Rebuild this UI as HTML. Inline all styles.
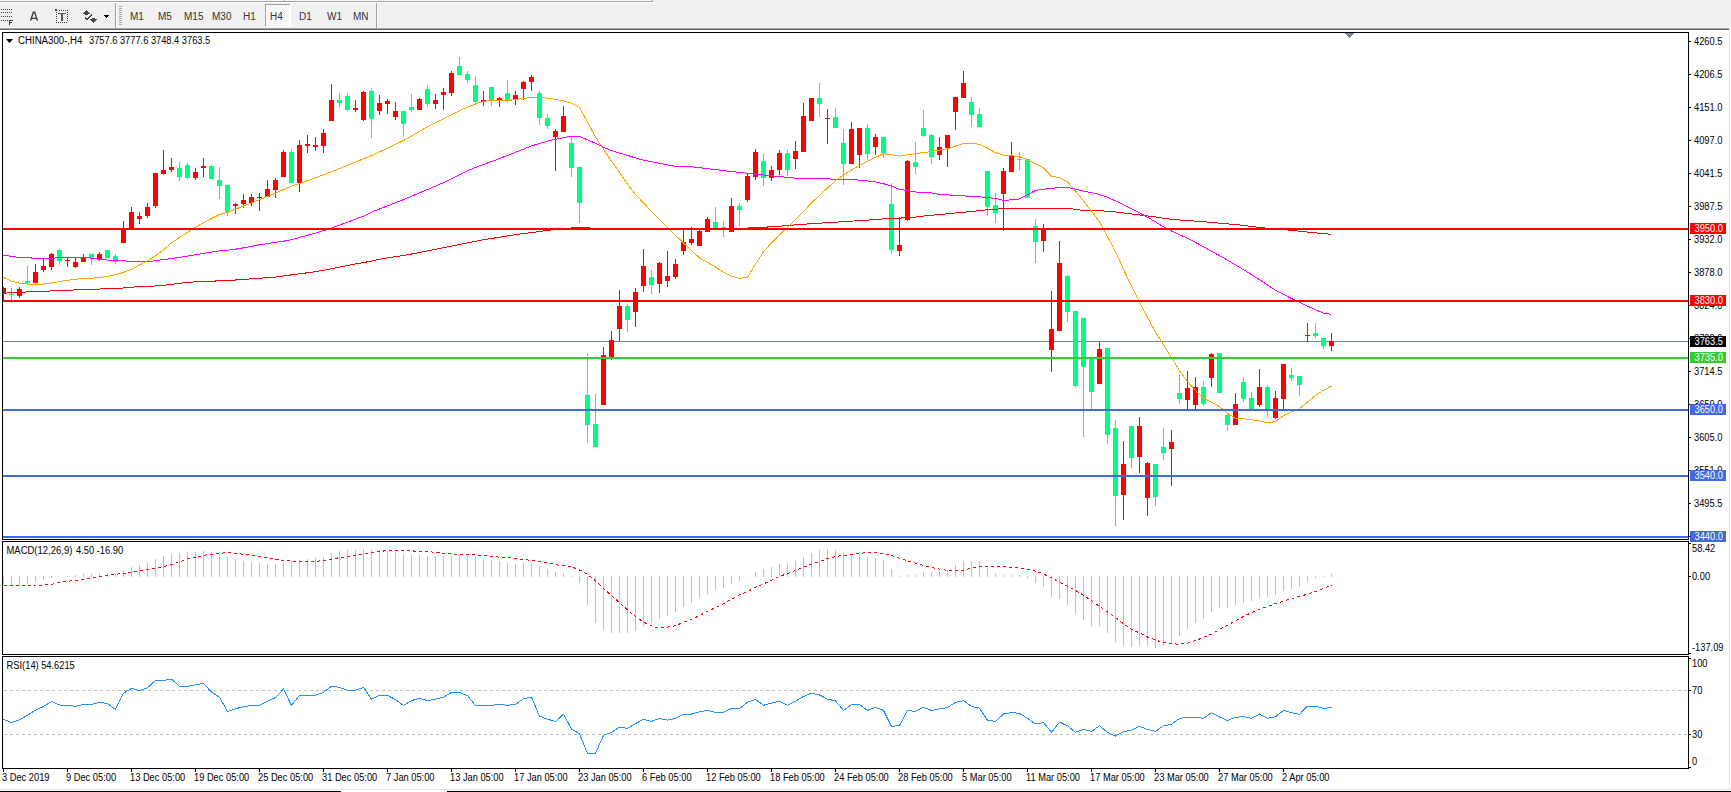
<!DOCTYPE html><html><head><meta charset="utf-8"><title>CHINA300 H4</title><style>
html,body{margin:0;padding:0;width:1731px;height:792px;overflow:hidden;background:#fff}
svg{position:absolute;left:0;top:0;display:block}
text{font-family:"Liberation Sans",sans-serif;font-size:9.5px;white-space:pre}
</style></head><body>
<svg width="1731" height="792" viewBox="0 0 1731 792" shape-rendering="crispEdges">
<defs><clipPath id="cm"><rect x="3" y="33" width="1685" height="506"/></clipPath><clipPath id="cd"><rect x="3" y="542" width="1685" height="112"/></clipPath><clipPath id="cr"><rect x="3" y="657" width="1685" height="111"/></clipPath><pattern id="dith" width="2" height="2" patternUnits="userSpaceOnUse"><rect width="2" height="2" fill="#f0f0f0"/><rect width="1" height="1" fill="#fff"/><rect x="1" y="1" width="1" height="1" fill="#fff"/></pattern></defs>
<rect x="0" y="0" width="1731" height="30" fill="#f0f0f0"/>
<rect x="0" y="0" width="653" height="1" fill="#f7f7f7"/>
<rect x="0" y="1" width="653" height="1" fill="#a0a0a0"/>
<rect x="652" y="0" width="1" height="2" fill="#a0a0a0"/>
<rect x="284" y="0" width="1" height="2" fill="#a0a0a0"/>
<rect x="0" y="2" width="654" height="1" fill="#ffffff"/>
<rect x="0" y="27" width="1731" height="1" fill="#f7f7f7"/>
<rect x="0" y="28" width="1729" height="1" fill="#a0a0a0"/>
<rect x="0" y="29" width="1729" height="1" fill="#696969"/>
<rect x="115" y="3" width="1" height="25" fill="#a0a0a0"/>
<rect x="116" y="3" width="1" height="25" fill="#ffffff"/>
<rect x="376" y="3" width="1" height="25" fill="#a0a0a0"/>
<rect x="377" y="3" width="1" height="25" fill="#ffffff"/>
<rect x="119" y="6" width="3" height="1" fill="#a8a8a8"/>
<rect x="119" y="8" width="3" height="1" fill="#a8a8a8"/>
<rect x="119" y="10" width="3" height="1" fill="#a8a8a8"/>
<rect x="119" y="12" width="3" height="1" fill="#a8a8a8"/>
<rect x="119" y="14" width="3" height="1" fill="#a8a8a8"/>
<rect x="119" y="16" width="3" height="1" fill="#a8a8a8"/>
<rect x="119" y="18" width="3" height="1" fill="#a8a8a8"/>
<rect x="119" y="20" width="3" height="1" fill="#a8a8a8"/>
<rect x="119" y="22" width="3" height="1" fill="#a8a8a8"/>
<rect x="119" y="24" width="3" height="1" fill="#a8a8a8"/>
<rect x="1" y="9" width="1" height="1" fill="#3c3c3c"/>
<rect x="3" y="9" width="1" height="1" fill="#3c3c3c"/>
<rect x="5" y="9" width="1" height="1" fill="#3c3c3c"/>
<rect x="7" y="9" width="1" height="1" fill="#3c3c3c"/>
<rect x="9" y="9" width="1" height="1" fill="#3c3c3c"/>
<rect x="11" y="9" width="1" height="1" fill="#3c3c3c"/>
<rect x="1" y="12" width="1" height="1" fill="#3c3c3c"/>
<rect x="3" y="12" width="1" height="1" fill="#3c3c3c"/>
<rect x="5" y="12" width="1" height="1" fill="#3c3c3c"/>
<rect x="7" y="12" width="1" height="1" fill="#3c3c3c"/>
<rect x="9" y="12" width="1" height="1" fill="#3c3c3c"/>
<rect x="11" y="12" width="1" height="1" fill="#3c3c3c"/>
<rect x="1" y="16" width="1" height="1" fill="#3c3c3c"/>
<rect x="3" y="16" width="1" height="1" fill="#3c3c3c"/>
<rect x="5" y="16" width="1" height="1" fill="#3c3c3c"/>
<rect x="7" y="16" width="1" height="1" fill="#3c3c3c"/>
<rect x="9" y="16" width="1" height="1" fill="#3c3c3c"/>
<rect x="11" y="16" width="1" height="1" fill="#3c3c3c"/>
<rect x="1" y="20" width="1" height="1" fill="#3c3c3c"/>
<rect x="3" y="20" width="1" height="1" fill="#3c3c3c"/>
<rect x="5" y="20" width="1" height="1" fill="#3c3c3c"/>
<rect x="7" y="20" width="1" height="1" fill="#3c3c3c"/>
<path d="M9 20h4v1h-3v1h2v1h-2v2h-1z" fill="#3c3c3c"/>
<path d="M30.6 20.6L33.3 12.2H34.7L37.4 20.6M31.6 18.4H36.4" stroke="#3a3a3a" stroke-width="1.35" fill="none" shape-rendering="auto"/>
<rect x="59" y="10" width="1" height="1" fill="#3c3c3c"/>
<rect x="61" y="10" width="1" height="1" fill="#3c3c3c"/>
<rect x="63" y="10" width="1" height="1" fill="#3c3c3c"/>
<rect x="65" y="10" width="1" height="1" fill="#3c3c3c"/>
<rect x="67" y="10" width="1" height="1" fill="#3c3c3c"/>
<rect x="56" y="22" width="1" height="1" fill="#3c3c3c"/>
<rect x="58" y="22" width="1" height="1" fill="#3c3c3c"/>
<rect x="60" y="22" width="1" height="1" fill="#3c3c3c"/>
<rect x="62" y="22" width="1" height="1" fill="#3c3c3c"/>
<rect x="64" y="22" width="1" height="1" fill="#3c3c3c"/>
<rect x="66" y="22" width="1" height="1" fill="#3c3c3c"/>
<rect x="56" y="12" width="1" height="1" fill="#3c3c3c"/>
<rect x="67" y="12" width="1" height="1" fill="#3c3c3c"/>
<rect x="56" y="14" width="1" height="1" fill="#3c3c3c"/>
<rect x="67" y="14" width="1" height="1" fill="#3c3c3c"/>
<rect x="56" y="16" width="1" height="1" fill="#3c3c3c"/>
<rect x="67" y="16" width="1" height="1" fill="#3c3c3c"/>
<rect x="56" y="18" width="1" height="1" fill="#3c3c3c"/>
<rect x="67" y="18" width="1" height="1" fill="#3c3c3c"/>
<rect x="56" y="20" width="1" height="1" fill="#3c3c3c"/>
<rect x="67" y="20" width="1" height="1" fill="#3c3c3c"/>
<rect x="55" y="9" width="2" height="2" fill="#3c3c3c"/>
<rect x="58" y="13" width="8" height="1" fill="#555555"/>
<rect x="61" y="13" width="2" height="8" fill="#555555"/>
<rect x="86" y="10" width="1" height="1" fill="#454545"/>
<rect x="85" y="11" width="3" height="1" fill="#454545"/>
<rect x="84" y="12" width="5" height="1" fill="#454545"/>
<rect x="83" y="13" width="7" height="1" fill="#454545"/>
<rect x="85" y="14" width="3" height="1" fill="#454545"/>
<rect x="92" y="18" width="3" height="1" fill="#454545"/>
<rect x="90" y="19" width="7" height="1" fill="#454545"/>
<rect x="91" y="20" width="5" height="1" fill="#454545"/>
<rect x="92" y="21" width="3" height="1" fill="#454545"/>
<rect x="93" y="22" width="1" height="1" fill="#454545"/>
<rect x="91" y="14" width="1" height="1" fill="#454545"/>
<rect x="90" y="15" width="1" height="1" fill="#454545"/>
<rect x="91" y="15" width="1" height="1" fill="#454545"/>
<rect x="89" y="16" width="1" height="1" fill="#454545"/>
<rect x="90" y="16" width="1" height="1" fill="#454545"/>
<rect x="85" y="17" width="1" height="1" fill="#454545"/>
<rect x="88" y="17" width="1" height="1" fill="#454545"/>
<rect x="89" y="17" width="1" height="1" fill="#454545"/>
<rect x="85" y="18" width="1" height="1" fill="#454545"/>
<rect x="86" y="18" width="1" height="1" fill="#454545"/>
<rect x="87" y="18" width="1" height="1" fill="#454545"/>
<rect x="88" y="18" width="1" height="1" fill="#454545"/>
<rect x="86" y="19" width="1" height="1" fill="#454545"/>
<rect x="87" y="19" width="1" height="1" fill="#454545"/>
<rect x="104" y="15" width="5" height="1" fill="#000"/>
<rect x="105" y="16" width="3" height="1" fill="#000"/>
<rect x="106" y="17" width="1" height="1" fill="#000"/>
<rect x="266" y="5" width="24" height="21" fill="url(#dith)"/>
<rect x="265" y="4" width="25" height="1" fill="#a0a0a0"/>
<rect x="265" y="4" width="1" height="22" fill="#a0a0a0"/>
<rect x="290" y="4" width="1" height="23" fill="#ffffff"/>
<rect x="265" y="26" width="26" height="1" fill="#ffffff"/>
<text x="130" y="20" fill="#333" style="font-size:10px" shape-rendering="auto">M1</text>
<text x="158" y="20" fill="#333" style="font-size:10px" shape-rendering="auto">M5</text>
<text x="184" y="20" fill="#333" style="font-size:10px" shape-rendering="auto">M15</text>
<text x="212" y="20" fill="#333" style="font-size:10px" shape-rendering="auto">M30</text>
<text x="243" y="20" fill="#333" style="font-size:10px" shape-rendering="auto">H1</text>
<text x="270" y="20" fill="#333" style="font-size:10px" shape-rendering="auto">H4</text>
<text x="299" y="20" fill="#333" style="font-size:10px" shape-rendering="auto">D1</text>
<text x="327" y="20" fill="#333" style="font-size:10px" shape-rendering="auto">W1</text>
<text x="353" y="20" fill="#333" style="font-size:10px" shape-rendering="auto">MN</text>
<rect x="0" y="30" width="1731" height="762" fill="#ffffff"/>
<rect x="1729" y="30" width="1" height="760" fill="#e3e3e3"/>
<rect x="0" y="789" width="1730" height="1" fill="#e3e3e3"/>
<rect x="0" y="791" width="341" height="1" fill="#000"/>
<rect x="447" y="791" width="1284" height="1" fill="#000"/>
<g clip-path="url(#cm)">
<rect x="3" y="341" width="1685" height="1" fill="#778899"/>
<rect x="3" y="287" width="1" height="13" fill="#ff0000"/>
<rect x="1" y="288" width="5" height="6" fill="#ff0000"/>
<rect x="11" y="288" width="1" height="15" fill="#00ff00"/>
<rect x="9" y="294" width="5" height="1" fill="#00ff00"/>
<rect x="19" y="287" width="1" height="11" fill="#ff0000"/>
<rect x="17" y="289" width="5" height="7" fill="#ff0000"/>
<rect x="27" y="266" width="1" height="18" fill="#00ff7f"/>
<rect x="25" y="281" width="5" height="2" fill="#00ff7f"/>
<rect x="35" y="264" width="1" height="19" fill="#ff0000"/>
<rect x="33" y="272" width="5" height="11" fill="#ff0000"/>
<rect x="43" y="258" width="1" height="14" fill="#ff0000"/>
<rect x="41" y="266" width="5" height="4" fill="#ff0000"/>
<rect x="51" y="253" width="1" height="17" fill="#ff0000"/>
<rect x="49" y="254" width="5" height="13" fill="#ff0000"/>
<rect x="59" y="249" width="1" height="16" fill="#00ff7f"/>
<rect x="57" y="250" width="5" height="11" fill="#00ff7f"/>
<rect x="67" y="257" width="1" height="10" fill="#ff0000"/>
<rect x="65" y="260" width="5" height="1" fill="#ff0000"/>
<rect x="75" y="257" width="1" height="11" fill="#ff0000"/>
<rect x="73" y="262" width="5" height="5" fill="#ff0000"/>
<rect x="83" y="254" width="1" height="8" fill="#ff0000"/>
<rect x="81" y="257" width="5" height="5" fill="#ff0000"/>
<rect x="91" y="254" width="1" height="11" fill="#00ff7f"/>
<rect x="89" y="254" width="5" height="4" fill="#00ff7f"/>
<rect x="99" y="252" width="1" height="9" fill="#ff0000"/>
<rect x="97" y="254" width="5" height="5" fill="#ff0000"/>
<rect x="107" y="250" width="1" height="8" fill="#00ff7f"/>
<rect x="105" y="250" width="5" height="8" fill="#00ff7f"/>
<rect x="115" y="254" width="1" height="10" fill="#00ff7f"/>
<rect x="113" y="256" width="5" height="6" fill="#00ff7f"/>
<rect x="123" y="221" width="1" height="22" fill="#ff0000"/>
<rect x="121" y="229" width="5" height="14" fill="#ff0000"/>
<rect x="131" y="207" width="1" height="21" fill="#ff0000"/>
<rect x="129" y="212" width="5" height="16" fill="#ff0000"/>
<rect x="139" y="212" width="1" height="12" fill="#ff0000"/>
<rect x="137" y="216" width="5" height="3" fill="#ff0000"/>
<rect x="147" y="203" width="1" height="15" fill="#ff0000"/>
<rect x="145" y="207" width="5" height="9" fill="#ff0000"/>
<rect x="155" y="173" width="1" height="35" fill="#ff0000"/>
<rect x="153" y="173" width="5" height="33" fill="#ff0000"/>
<rect x="163" y="150" width="1" height="25" fill="#ff0000"/>
<rect x="161" y="170" width="5" height="4" fill="#ff0000"/>
<rect x="171" y="158" width="1" height="14" fill="#ff0000"/>
<rect x="169" y="167" width="5" height="3" fill="#ff0000"/>
<rect x="179" y="162" width="1" height="19" fill="#00ff7f"/>
<rect x="177" y="168" width="5" height="9" fill="#00ff7f"/>
<rect x="187" y="163" width="1" height="16" fill="#00ff7f"/>
<rect x="185" y="165" width="5" height="13" fill="#00ff7f"/>
<rect x="195" y="168" width="1" height="12" fill="#ff0000"/>
<rect x="193" y="172" width="5" height="6" fill="#ff0000"/>
<rect x="203" y="158" width="1" height="19" fill="#ff0000"/>
<rect x="201" y="166" width="5" height="2" fill="#ff0000"/>
<rect x="211" y="165" width="1" height="14" fill="#00ff7f"/>
<rect x="209" y="166" width="5" height="13" fill="#00ff7f"/>
<rect x="219" y="167" width="1" height="32" fill="#00ff7f"/>
<rect x="217" y="180" width="5" height="6" fill="#00ff7f"/>
<rect x="227" y="185" width="1" height="31" fill="#00ff7f"/>
<rect x="225" y="185" width="5" height="27" fill="#00ff7f"/>
<rect x="235" y="203" width="1" height="11" fill="#ff0000"/>
<rect x="233" y="204" width="5" height="2" fill="#ff0000"/>
<rect x="243" y="194" width="1" height="14" fill="#ff0000"/>
<rect x="241" y="200" width="5" height="4" fill="#ff0000"/>
<rect x="251" y="194" width="1" height="12" fill="#ff0000"/>
<rect x="249" y="197" width="5" height="6" fill="#ff0000"/>
<rect x="259" y="193" width="1" height="18" fill="#ff0000"/>
<rect x="257" y="197" width="5" height="1" fill="#ff0000"/>
<rect x="267" y="180" width="1" height="17" fill="#ff0000"/>
<rect x="265" y="189" width="5" height="8" fill="#ff0000"/>
<rect x="275" y="178" width="1" height="20" fill="#ff0000"/>
<rect x="273" y="180" width="5" height="10" fill="#ff0000"/>
<rect x="283" y="150" width="1" height="27" fill="#ff0000"/>
<rect x="281" y="152" width="5" height="25" fill="#ff0000"/>
<rect x="291" y="149" width="1" height="34" fill="#00ff7f"/>
<rect x="289" y="152" width="5" height="31" fill="#00ff7f"/>
<rect x="299" y="140" width="1" height="52" fill="#ff0000"/>
<rect x="297" y="145" width="5" height="38" fill="#ff0000"/>
<rect x="307" y="135" width="1" height="18" fill="#ff0000"/>
<rect x="305" y="144" width="5" height="2" fill="#ff0000"/>
<rect x="315" y="137" width="1" height="14" fill="#ff0000"/>
<rect x="313" y="145" width="5" height="2" fill="#ff0000"/>
<rect x="323" y="129" width="1" height="24" fill="#ff0000"/>
<rect x="321" y="133" width="5" height="13" fill="#ff0000"/>
<rect x="331" y="84" width="1" height="37" fill="#ff0000"/>
<rect x="329" y="100" width="5" height="21" fill="#ff0000"/>
<rect x="339" y="93" width="1" height="15" fill="#00ff7f"/>
<rect x="337" y="100" width="5" height="3" fill="#00ff7f"/>
<rect x="347" y="93" width="1" height="18" fill="#00ff7f"/>
<rect x="345" y="96" width="5" height="14" fill="#00ff7f"/>
<rect x="355" y="100" width="1" height="12" fill="#ff0000"/>
<rect x="353" y="108" width="5" height="2" fill="#ff0000"/>
<rect x="363" y="91" width="1" height="30" fill="#ff0000"/>
<rect x="361" y="92" width="5" height="28" fill="#ff0000"/>
<rect x="371" y="88" width="1" height="50" fill="#00ff7f"/>
<rect x="369" y="91" width="5" height="28" fill="#00ff7f"/>
<rect x="379" y="95" width="1" height="20" fill="#ff0000"/>
<rect x="377" y="103" width="5" height="8" fill="#ff0000"/>
<rect x="387" y="99" width="1" height="15" fill="#ff0000"/>
<rect x="385" y="101" width="5" height="3" fill="#ff0000"/>
<rect x="395" y="102" width="1" height="18" fill="#ff0000"/>
<rect x="393" y="111" width="5" height="6" fill="#ff0000"/>
<rect x="403" y="111" width="1" height="26" fill="#00ff7f"/>
<rect x="401" y="111" width="5" height="13" fill="#00ff7f"/>
<rect x="411" y="94" width="1" height="18" fill="#00ff7f"/>
<rect x="409" y="107" width="5" height="3" fill="#00ff7f"/>
<rect x="419" y="98" width="1" height="12" fill="#ff0000"/>
<rect x="417" y="99" width="5" height="11" fill="#ff0000"/>
<rect x="427" y="85" width="1" height="22" fill="#00ff7f"/>
<rect x="425" y="89" width="5" height="15" fill="#00ff7f"/>
<rect x="435" y="94" width="1" height="15" fill="#ff0000"/>
<rect x="433" y="100" width="5" height="4" fill="#ff0000"/>
<rect x="443" y="88" width="1" height="22" fill="#ff0000"/>
<rect x="441" y="92" width="5" height="3" fill="#ff0000"/>
<rect x="451" y="71" width="1" height="25" fill="#ff0000"/>
<rect x="449" y="73" width="5" height="20" fill="#ff0000"/>
<rect x="459" y="57" width="1" height="18" fill="#00ff7f"/>
<rect x="457" y="66" width="5" height="9" fill="#00ff7f"/>
<rect x="467" y="71" width="1" height="12" fill="#00ff7f"/>
<rect x="465" y="74" width="5" height="6" fill="#00ff7f"/>
<rect x="475" y="76" width="1" height="29" fill="#00ff7f"/>
<rect x="473" y="85" width="5" height="17" fill="#00ff7f"/>
<rect x="483" y="91" width="1" height="15" fill="#ff0000"/>
<rect x="481" y="100" width="5" height="2" fill="#ff0000"/>
<rect x="491" y="87" width="1" height="19" fill="#00ff7f"/>
<rect x="489" y="87" width="5" height="13" fill="#00ff7f"/>
<rect x="499" y="97" width="1" height="10" fill="#ff0000"/>
<rect x="497" y="98" width="5" height="2" fill="#ff0000"/>
<rect x="507" y="80" width="1" height="22" fill="#00ff7f"/>
<rect x="505" y="93" width="5" height="7" fill="#00ff7f"/>
<rect x="515" y="91" width="1" height="14" fill="#ff0000"/>
<rect x="513" y="95" width="5" height="4" fill="#ff0000"/>
<rect x="523" y="81" width="1" height="19" fill="#ff0000"/>
<rect x="521" y="82" width="5" height="7" fill="#ff0000"/>
<rect x="531" y="75" width="1" height="16" fill="#ff0000"/>
<rect x="529" y="77" width="5" height="5" fill="#ff0000"/>
<rect x="539" y="91" width="1" height="34" fill="#00ff7f"/>
<rect x="537" y="93" width="5" height="25" fill="#00ff7f"/>
<rect x="547" y="114" width="1" height="15" fill="#00ff7f"/>
<rect x="545" y="118" width="5" height="8" fill="#00ff7f"/>
<rect x="555" y="129" width="1" height="42" fill="#ff0000"/>
<rect x="553" y="131" width="5" height="6" fill="#ff0000"/>
<rect x="563" y="106" width="1" height="26" fill="#ff0000"/>
<rect x="561" y="116" width="5" height="16" fill="#ff0000"/>
<rect x="571" y="136" width="1" height="41" fill="#00ff7f"/>
<rect x="569" y="143" width="5" height="25" fill="#00ff7f"/>
<rect x="579" y="167" width="1" height="56" fill="#00ff7f"/>
<rect x="577" y="167" width="5" height="36" fill="#00ff7f"/>
<rect x="587" y="353" width="1" height="90" fill="#00ff7f"/>
<rect x="585" y="395" width="5" height="30" fill="#00ff7f"/>
<rect x="595" y="394" width="1" height="53" fill="#00ff7f"/>
<rect x="593" y="424" width="5" height="23" fill="#00ff7f"/>
<rect x="603" y="347" width="1" height="58" fill="#ff0000"/>
<rect x="601" y="355" width="5" height="50" fill="#ff0000"/>
<rect x="611" y="331" width="1" height="29" fill="#ff0000"/>
<rect x="609" y="340" width="5" height="19" fill="#ff0000"/>
<rect x="619" y="290" width="1" height="51" fill="#ff0000"/>
<rect x="617" y="306" width="5" height="23" fill="#ff0000"/>
<rect x="627" y="304" width="1" height="28" fill="#00ff7f"/>
<rect x="625" y="306" width="5" height="14" fill="#00ff7f"/>
<rect x="635" y="288" width="1" height="39" fill="#ff0000"/>
<rect x="633" y="292" width="5" height="20" fill="#ff0000"/>
<rect x="643" y="249" width="1" height="43" fill="#ff0000"/>
<rect x="641" y="266" width="5" height="20" fill="#ff0000"/>
<rect x="651" y="270" width="1" height="24" fill="#00ff7f"/>
<rect x="649" y="277" width="5" height="8" fill="#00ff7f"/>
<rect x="659" y="262" width="1" height="31" fill="#ff0000"/>
<rect x="657" y="263" width="5" height="21" fill="#ff0000"/>
<rect x="667" y="251" width="1" height="36" fill="#ff0000"/>
<rect x="665" y="276" width="5" height="5" fill="#ff0000"/>
<rect x="675" y="259" width="1" height="20" fill="#ff0000"/>
<rect x="673" y="264" width="5" height="13" fill="#ff0000"/>
<rect x="683" y="229" width="1" height="26" fill="#ff0000"/>
<rect x="681" y="242" width="5" height="9" fill="#ff0000"/>
<rect x="691" y="227" width="1" height="18" fill="#ff0000"/>
<rect x="689" y="239" width="5" height="4" fill="#ff0000"/>
<rect x="699" y="230" width="1" height="16" fill="#ff0000"/>
<rect x="697" y="231" width="5" height="15" fill="#ff0000"/>
<rect x="707" y="217" width="1" height="15" fill="#ff0000"/>
<rect x="705" y="219" width="5" height="13" fill="#ff0000"/>
<rect x="715" y="207" width="1" height="21" fill="#00ff7f"/>
<rect x="713" y="222" width="5" height="6" fill="#00ff7f"/>
<rect x="723" y="221" width="1" height="16" fill="#00ff7f"/>
<rect x="721" y="227" width="5" height="1" fill="#00ff7f"/>
<rect x="731" y="198" width="1" height="34" fill="#ff0000"/>
<rect x="729" y="206" width="5" height="26" fill="#ff0000"/>
<rect x="739" y="203" width="1" height="23" fill="#00ff7f"/>
<rect x="737" y="206" width="5" height="4" fill="#00ff7f"/>
<rect x="747" y="174" width="1" height="28" fill="#ff0000"/>
<rect x="745" y="176" width="5" height="24" fill="#ff0000"/>
<rect x="755" y="149" width="1" height="31" fill="#ff0000"/>
<rect x="753" y="152" width="5" height="25" fill="#ff0000"/>
<rect x="763" y="154" width="1" height="32" fill="#00ff7f"/>
<rect x="761" y="161" width="5" height="17" fill="#00ff7f"/>
<rect x="771" y="166" width="1" height="15" fill="#ff0000"/>
<rect x="769" y="170" width="5" height="8" fill="#ff0000"/>
<rect x="779" y="150" width="1" height="25" fill="#ff0000"/>
<rect x="777" y="153" width="5" height="17" fill="#ff0000"/>
<rect x="787" y="150" width="1" height="26" fill="#00ff7f"/>
<rect x="785" y="153" width="5" height="17" fill="#00ff7f"/>
<rect x="795" y="141" width="1" height="28" fill="#ff0000"/>
<rect x="793" y="151" width="5" height="8" fill="#ff0000"/>
<rect x="803" y="103" width="1" height="49" fill="#ff0000"/>
<rect x="801" y="116" width="5" height="36" fill="#ff0000"/>
<rect x="811" y="98" width="1" height="23" fill="#ff0000"/>
<rect x="809" y="98" width="5" height="23" fill="#ff0000"/>
<rect x="819" y="83" width="1" height="34" fill="#00ff7f"/>
<rect x="817" y="98" width="5" height="6" fill="#00ff7f"/>
<rect x="827" y="109" width="1" height="35" fill="#ff0000"/>
<rect x="825" y="118" width="5" height="1" fill="#ff0000"/>
<rect x="835" y="108" width="1" height="20" fill="#00ff7f"/>
<rect x="833" y="117" width="5" height="11" fill="#00ff7f"/>
<rect x="843" y="129" width="1" height="56" fill="#00ff7f"/>
<rect x="841" y="143" width="5" height="21" fill="#00ff7f"/>
<rect x="851" y="122" width="1" height="42" fill="#ff0000"/>
<rect x="849" y="129" width="5" height="35" fill="#ff0000"/>
<rect x="859" y="128" width="1" height="40" fill="#ff0000"/>
<rect x="857" y="128" width="5" height="27" fill="#ff0000"/>
<rect x="867" y="124" width="1" height="36" fill="#00ff7f"/>
<rect x="865" y="128" width="5" height="26" fill="#00ff7f"/>
<rect x="875" y="134" width="1" height="21" fill="#ff0000"/>
<rect x="873" y="137" width="5" height="10" fill="#ff0000"/>
<rect x="883" y="137" width="1" height="21" fill="#00ff7f"/>
<rect x="881" y="137" width="5" height="16" fill="#00ff7f"/>
<rect x="891" y="183" width="1" height="71" fill="#00ff7f"/>
<rect x="889" y="204" width="5" height="46" fill="#00ff7f"/>
<rect x="899" y="217" width="1" height="39" fill="#ff0000"/>
<rect x="897" y="245" width="5" height="6" fill="#ff0000"/>
<rect x="907" y="160" width="1" height="61" fill="#ff0000"/>
<rect x="905" y="161" width="5" height="59" fill="#ff0000"/>
<rect x="915" y="142" width="1" height="32" fill="#00ff7f"/>
<rect x="913" y="162" width="5" height="5" fill="#00ff7f"/>
<rect x="923" y="110" width="1" height="27" fill="#00ff7f"/>
<rect x="921" y="128" width="5" height="8" fill="#00ff7f"/>
<rect x="931" y="134" width="1" height="30" fill="#00ff7f"/>
<rect x="929" y="135" width="5" height="22" fill="#00ff7f"/>
<rect x="939" y="137" width="1" height="23" fill="#ff0000"/>
<rect x="937" y="147" width="5" height="8" fill="#ff0000"/>
<rect x="947" y="135" width="1" height="32" fill="#ff0000"/>
<rect x="945" y="135" width="5" height="13" fill="#ff0000"/>
<rect x="955" y="97" width="1" height="33" fill="#ff0000"/>
<rect x="953" y="97" width="5" height="15" fill="#ff0000"/>
<rect x="963" y="71" width="1" height="27" fill="#ff0000"/>
<rect x="961" y="83" width="5" height="15" fill="#ff0000"/>
<rect x="971" y="97" width="1" height="30" fill="#00ff7f"/>
<rect x="969" y="102" width="5" height="13" fill="#00ff7f"/>
<rect x="979" y="108" width="1" height="19" fill="#00ff7f"/>
<rect x="977" y="114" width="5" height="13" fill="#00ff7f"/>
<rect x="987" y="171" width="1" height="45" fill="#00ff7f"/>
<rect x="985" y="171" width="5" height="36" fill="#00ff7f"/>
<rect x="995" y="193" width="1" height="30" fill="#00ff7f"/>
<rect x="993" y="205" width="5" height="8" fill="#00ff7f"/>
<rect x="1003" y="168" width="1" height="63" fill="#ff0000"/>
<rect x="1001" y="171" width="5" height="23" fill="#ff0000"/>
<rect x="1011" y="142" width="1" height="30" fill="#ff0000"/>
<rect x="1009" y="156" width="5" height="16" fill="#ff0000"/>
<rect x="1019" y="152" width="1" height="18" fill="#00ff7f"/>
<rect x="1017" y="159" width="5" height="1" fill="#00ff7f"/>
<rect x="1027" y="159" width="1" height="39" fill="#00ff7f"/>
<rect x="1025" y="159" width="5" height="39" fill="#00ff7f"/>
<rect x="1035" y="219" width="1" height="44" fill="#00ff7f"/>
<rect x="1033" y="226" width="5" height="16" fill="#00ff7f"/>
<rect x="1043" y="224" width="1" height="28" fill="#ff0000"/>
<rect x="1041" y="229" width="5" height="12" fill="#ff0000"/>
<rect x="1051" y="291" width="1" height="81" fill="#ff0000"/>
<rect x="1049" y="329" width="5" height="21" fill="#ff0000"/>
<rect x="1059" y="241" width="1" height="90" fill="#ff0000"/>
<rect x="1057" y="263" width="5" height="68" fill="#ff0000"/>
<rect x="1067" y="275" width="1" height="47" fill="#00ff7f"/>
<rect x="1065" y="276" width="5" height="36" fill="#00ff7f"/>
<rect x="1075" y="311" width="1" height="76" fill="#00ff7f"/>
<rect x="1073" y="311" width="5" height="75" fill="#00ff7f"/>
<rect x="1083" y="318" width="1" height="119" fill="#00ff7f"/>
<rect x="1081" y="318" width="5" height="49" fill="#00ff7f"/>
<rect x="1091" y="358" width="1" height="52" fill="#00ff7f"/>
<rect x="1089" y="358" width="5" height="34" fill="#00ff7f"/>
<rect x="1099" y="341" width="1" height="43" fill="#ff0000"/>
<rect x="1097" y="349" width="5" height="35" fill="#ff0000"/>
<rect x="1107" y="348" width="1" height="96" fill="#00ff7f"/>
<rect x="1105" y="348" width="5" height="87" fill="#00ff7f"/>
<rect x="1115" y="420" width="1" height="106" fill="#00ff7f"/>
<rect x="1113" y="428" width="5" height="68" fill="#00ff7f"/>
<rect x="1123" y="441" width="1" height="79" fill="#ff0000"/>
<rect x="1121" y="464" width="5" height="31" fill="#ff0000"/>
<rect x="1131" y="426" width="1" height="42" fill="#00ff7f"/>
<rect x="1129" y="426" width="5" height="32" fill="#00ff7f"/>
<rect x="1139" y="417" width="1" height="56" fill="#ff0000"/>
<rect x="1137" y="426" width="5" height="31" fill="#ff0000"/>
<rect x="1147" y="462" width="1" height="54" fill="#ff0000"/>
<rect x="1145" y="463" width="5" height="35" fill="#ff0000"/>
<rect x="1155" y="464" width="1" height="42" fill="#00ff7f"/>
<rect x="1153" y="464" width="5" height="33" fill="#00ff7f"/>
<rect x="1163" y="428" width="1" height="32" fill="#00ff7f"/>
<rect x="1161" y="447" width="5" height="6" fill="#00ff7f"/>
<rect x="1171" y="430" width="1" height="56" fill="#ff0000"/>
<rect x="1169" y="442" width="5" height="7" fill="#ff0000"/>
<rect x="1179" y="374" width="1" height="30" fill="#00ff7f"/>
<rect x="1177" y="393" width="5" height="6" fill="#00ff7f"/>
<rect x="1187" y="371" width="1" height="38" fill="#ff0000"/>
<rect x="1185" y="388" width="5" height="12" fill="#ff0000"/>
<rect x="1195" y="377" width="1" height="32" fill="#ff0000"/>
<rect x="1193" y="387" width="5" height="18" fill="#ff0000"/>
<rect x="1203" y="381" width="1" height="25" fill="#00ff7f"/>
<rect x="1201" y="387" width="5" height="17" fill="#00ff7f"/>
<rect x="1211" y="353" width="1" height="34" fill="#ff0000"/>
<rect x="1209" y="354" width="5" height="24" fill="#ff0000"/>
<rect x="1219" y="353" width="1" height="40" fill="#00ff7f"/>
<rect x="1217" y="353" width="5" height="40" fill="#00ff7f"/>
<rect x="1227" y="414" width="1" height="17" fill="#00ff7f"/>
<rect x="1225" y="415" width="5" height="10" fill="#00ff7f"/>
<rect x="1235" y="393" width="1" height="32" fill="#ff0000"/>
<rect x="1233" y="404" width="5" height="21" fill="#ff0000"/>
<rect x="1243" y="377" width="1" height="25" fill="#00ff7f"/>
<rect x="1241" y="382" width="5" height="17" fill="#00ff7f"/>
<rect x="1251" y="392" width="1" height="18" fill="#00ff7f"/>
<rect x="1249" y="398" width="5" height="12" fill="#00ff7f"/>
<rect x="1259" y="369" width="1" height="38" fill="#ff0000"/>
<rect x="1257" y="387" width="5" height="18" fill="#ff0000"/>
<rect x="1267" y="385" width="1" height="32" fill="#00ff7f"/>
<rect x="1265" y="387" width="5" height="24" fill="#00ff7f"/>
<rect x="1275" y="391" width="1" height="28" fill="#ff0000"/>
<rect x="1273" y="398" width="5" height="20" fill="#ff0000"/>
<rect x="1283" y="364" width="1" height="45" fill="#ff0000"/>
<rect x="1281" y="364" width="5" height="35" fill="#ff0000"/>
<rect x="1291" y="368" width="1" height="13" fill="#00ff7f"/>
<rect x="1289" y="375" width="5" height="3" fill="#00ff7f"/>
<rect x="1299" y="376" width="1" height="20" fill="#00ff7f"/>
<rect x="1297" y="376" width="5" height="9" fill="#00ff7f"/>
<rect x="1307" y="323" width="1" height="19" fill="#ff0000"/>
<rect x="1305" y="335" width="5" height="1" fill="#ff0000"/>
<rect x="1315" y="323" width="1" height="15" fill="#00ff7f"/>
<rect x="1313" y="333" width="5" height="3" fill="#00ff7f"/>
<rect x="1323" y="338" width="1" height="11" fill="#00ff7f"/>
<rect x="1321" y="338" width="5" height="8" fill="#00ff7f"/>
<rect x="1331" y="333" width="1" height="18" fill="#ff0000"/>
<rect x="1329" y="341" width="5" height="5" fill="#ff0000"/>
<polyline points="3.5,293.4 11.5,292.4 19.5,292.19 27.5,291.98 35.5,291.68 43.5,291.3 51.5,290.92 59.5,290.56 67.5,290.23 75.5,289.9 83.5,289.57 91.5,289.28 99.5,289.02 107.5,288.77 115.5,288.52 123.5,287.94 131.5,287.15 139.5,286.76 147.5,286.38 155.5,285.99 163.5,285.29 171.5,284.29 179.5,283.3 187.5,282.3 195.5,281.88 203.5,281.53 211.5,281.18 219.5,280.83 227.5,280.48 235.5,280.01 243.5,279.42 251.5,278.83 259.5,278.24 267.5,277.65 275.5,277.02 283.5,275.95 291.5,274.88 299.5,273.81 307.5,272.74 315.5,271.67 323.5,270.25 331.5,268.64 339.5,267.03 347.5,265.43 355.5,263.99 363.5,262.56 371.5,261.07 379.5,259.23 387.5,257.92 395.5,256.69 403.5,255.45 411.5,254.02 419.5,252.43 427.5,250.83 435.5,249.24 443.5,247.64 451.5,246.04 459.5,244.45 467.5,242.85 475.5,241.26 483.5,239.78 491.5,238.49 499.5,237.2 507.5,235.92 515.5,234.63 523.5,233.55 531.5,232.53 539.5,231.5 547.5,230.47 555.5,229.54 563.5,228.91 571.5,228 579.5,227.4 587.5,227.93 595.5,228.2 603.5,228.2 611.5,228.2 619.5,228.2 627.5,228.2 635.5,228.2 643.5,228.2 651.5,228.2 659.5,228.2 667.5,228.2 675.5,228.2 683.5,228.2 691.5,228.2 699.5,228.2 707.5,228.2 715.5,228.2 723.5,228.2 731.5,228.2 739.5,228.2 747.5,228.03 755.5,227.62 763.5,227.21 771.5,226.8 779.5,226.25 787.5,225.57 795.5,224.91 803.5,224.29 811.5,223.71 819.5,223.19 827.5,222.68 835.5,222.16 843.5,221.65 851.5,221.14 859.5,220.62 867.5,220.11 875.5,219.59 883.5,218.83 891.5,218.23 899.5,218.05 907.5,217.87 915.5,217.08 923.5,216.08 931.5,215.29 939.5,214.5 947.5,213.75 955.5,212.99 963.5,212.22 971.5,211.47 979.5,210.64 987.5,209.72 995.5,209.17 1003.5,208.62 1011.5,208.3 1019.5,208.3 1027.5,208.3 1035.5,208.3 1043.5,208.3 1051.5,208.3 1059.5,208.3 1067.5,208.3 1075.5,209.4 1083.5,210.5 1091.5,210.5 1099.5,210.73 1107.5,211.2 1115.5,211.99 1123.5,212.99 1131.5,213.99 1139.5,215 1147.5,216 1155.5,217 1163.5,218.2 1171.5,219.41 1179.5,219.99 1187.5,220.56 1195.5,221.14 1203.5,221.75 1211.5,222.43 1219.5,223.13 1227.5,223.84 1235.5,224.55 1243.5,225.43 1251.5,226.47 1259.5,227.51 1267.5,228.23 1275.5,228.92 1283.5,229.61 1291.5,230.37 1299.5,231.22 1307.5,232.06 1315.5,232.83 1323.5,233.58 1331.5,234.3" fill="none" stroke="#ff0000" stroke-width="1"/>
<polyline points="3.5,255.24 11.5,256.3 19.5,257.5 27.5,257.82 35.5,258.19 43.5,258.63 51.5,258.23 59.5,257.68 67.5,257.4 75.5,257.4 83.5,257.4 91.5,258.14 99.5,259.36 107.5,260.05 115.5,260.57 123.5,260.91 131.5,261.26 139.5,261.7 147.5,261.67 155.5,260.64 163.5,259.62 171.5,258.59 179.5,257.35 187.5,256.03 195.5,254.7 203.5,253.37 211.5,252.05 219.5,250.89 227.5,250.15 235.5,249.18 243.5,247.84 251.5,246.4 259.5,244.8 267.5,243.56 275.5,242.37 283.5,241.18 291.5,239.72 299.5,237.5 307.5,235.29 315.5,233.08 323.5,230.64 331.5,228.08 339.5,225.13 347.5,222.12 355.5,219.1 363.5,216.08 371.5,212.11 379.5,208.98 387.5,205.86 395.5,202.73 403.5,199.61 411.5,196.32 419.5,192.91 427.5,189.5 435.5,186.1 443.5,182.69 451.5,178.71 459.5,174.73 467.5,170.74 475.5,167.43 483.5,164.53 491.5,161.55 499.5,158.56 507.5,155.52 515.5,152.33 523.5,149.13 531.5,145.94 539.5,143.42 547.5,141.24 555.5,139.23 563.5,137.76 571.5,136.22 579.5,136.49 587.5,139.79 595.5,143.38 603.5,147.22 611.5,150.57 619.5,153.09 627.5,155.37 635.5,157.95 643.5,160.17 651.5,161.73 659.5,163.3 667.5,164.91 675.5,166.26 683.5,166.5 691.5,166.84 699.5,167.75 707.5,168.67 715.5,169.6 723.5,170.55 731.5,171.49 739.5,172.44 747.5,173.33 755.5,174.14 763.5,174.94 771.5,175.75 779.5,176.54 787.5,177.33 795.5,178.11 803.5,178.4 811.5,178.48 819.5,178.7 827.5,178.92 835.5,179.14 843.5,179.36 851.5,179.58 859.5,180.09 867.5,180.98 875.5,181.87 883.5,183.71 891.5,186.13 899.5,189.35 907.5,190.55 915.5,191.98 923.5,192.36 931.5,192.93 939.5,194.46 947.5,194.94 955.5,195.42 963.5,195.9 971.5,196.38 979.5,196.9 987.5,197.68 995.5,198.53 1003.5,200.31 1011.5,199.83 1019.5,198.9 1027.5,194.68 1035.5,190.46 1043.5,189.24 1051.5,188.22 1059.5,187.76 1067.5,187.46 1075.5,189.09 1083.5,191.11 1091.5,192.74 1099.5,194.41 1107.5,197.21 1115.5,200.95 1123.5,204.87 1131.5,208.89 1139.5,212.9 1147.5,217.11 1155.5,221.89 1163.5,226.73 1171.5,230.97 1179.5,234.6 1187.5,238.23 1195.5,242.38 1203.5,246.79 1211.5,251.19 1219.5,255.6 1227.5,260.1 1235.5,264.91 1243.5,269.71 1251.5,274.52 1259.5,279.71 1267.5,285.02 1275.5,290.13 1283.5,294.33 1291.5,298.52 1299.5,302.41 1307.5,306.08 1315.5,309.7 1323.5,313.24 1331.5,314.4" fill="none" stroke="#ff00ff" stroke-width="1"/>
<polyline points="3.5,277.52 11.5,281.09 19.5,283.04 27.5,284 35.5,284 43.5,284 51.5,283.16 59.5,281.59 67.5,280.28 75.5,279.25 83.5,278.43 91.5,278.16 99.5,277.56 107.5,276.39 115.5,274.76 123.5,272.44 131.5,269.27 139.5,265.03 147.5,260.79 155.5,255.81 163.5,249.78 171.5,242.96 179.5,237.39 187.5,232.33 195.5,227.3 203.5,222.8 211.5,218.55 219.5,214.52 227.5,212.4 235.5,209.22 243.5,206 251.5,202.93 259.5,199.68 267.5,196.51 275.5,193.12 283.5,189.53 291.5,186.29 299.5,183.46 307.5,180.63 315.5,177.8 323.5,174.85 331.5,171.68 339.5,168.49 347.5,165.27 355.5,162.05 363.5,158.82 371.5,155.64 379.5,151.96 387.5,148.21 395.5,144.38 403.5,140.54 411.5,135.98 419.5,131.38 427.5,126.78 435.5,122.64 443.5,118.63 451.5,114.61 459.5,110.6 467.5,107.23 475.5,103.87 483.5,101.5 491.5,100.42 499.5,100.4 507.5,100.4 515.5,99.62 523.5,98.38 531.5,97.6 539.5,97.6 547.5,98.18 555.5,99.42 563.5,100.9 571.5,103.25 579.5,107.14 587.5,122.06 595.5,136.95 603.5,149.08 611.5,161.14 619.5,172.23 627.5,184.21 635.5,194.32 643.5,203.03 651.5,211.5 659.5,219.5 667.5,227.45 675.5,235.3 683.5,242.89 691.5,250.37 699.5,258.11 707.5,262.26 715.5,267.01 723.5,272.29 731.5,276.16 739.5,278.3 747.5,277.42 755.5,264.07 763.5,251.85 771.5,242.91 779.5,234.8 787.5,227.34 795.5,219.7 803.5,211.49 811.5,202.99 819.5,195.44 827.5,188.03 835.5,180.62 843.5,174.95 851.5,170.01 859.5,165.1 867.5,161.27 875.5,157.43 883.5,153.59 891.5,154.7 899.5,156.06 907.5,154.84 915.5,153.54 923.5,152.64 931.5,151.48 939.5,150.14 947.5,148.8 955.5,146.03 963.5,143.4 971.5,143.4 979.5,144.25 987.5,148.02 995.5,152.71 1003.5,155.1 1011.5,155.72 1019.5,156.6 1027.5,159.78 1035.5,163.67 1043.5,167.81 1051.5,176.16 1059.5,177.53 1067.5,181.98 1075.5,190.89 1083.5,200.89 1091.5,211.27 1099.5,221.65 1107.5,236.68 1115.5,251.61 1123.5,269.17 1131.5,286.13 1139.5,302.19 1147.5,317.37 1155.5,332.07 1163.5,344.7 1171.5,357.55 1179.5,370.75 1187.5,381.5 1195.5,390.7 1203.5,397.9 1211.5,402.24 1219.5,406.5 1227.5,413.3 1235.5,418.44 1243.5,418.5 1251.5,419.86 1259.5,420.77 1267.5,422.95 1275.5,421.45 1283.5,415.42 1291.5,411.82 1299.5,408.66 1307.5,402.15 1315.5,395.47 1323.5,390.24 1331.5,386" fill="none" stroke="#ffa500" stroke-width="1"/>
<rect x="3" y="228" width="1685" height="2" fill="#ff0000"/>
<rect x="3" y="300" width="1685" height="2" fill="#ff0000"/>
<rect x="3" y="357" width="1685" height="2" fill="#32cd32"/>
<rect x="3" y="409" width="1685" height="2" fill="#4169e1"/>
<rect x="3" y="475" width="1685" height="2" fill="#4169e1"/>
<rect x="3" y="536" width="1685" height="2" fill="#4169e1"/>
<path d="M1344.5 33H1354.5L1349.5 38z" fill="#778899"/>
</g>
<g clip-path="url(#cd)">
<rect x="3" y="576" width="1" height="9" fill="#c0c0c0"/>
<rect x="11" y="576" width="1" height="9" fill="#c0c0c0"/>
<rect x="19" y="576" width="1" height="9" fill="#c0c0c0"/>
<rect x="27" y="576" width="1" height="8" fill="#c0c0c0"/>
<rect x="35" y="576" width="1" height="6" fill="#c0c0c0"/>
<rect x="43" y="576" width="1" height="4" fill="#c0c0c0"/>
<rect x="51" y="576" width="1" height="2" fill="#c0c0c0"/>
<rect x="67" y="576" width="1" height="1" fill="#c0c0c0"/>
<rect x="75" y="575" width="1" height="2" fill="#c0c0c0"/>
<rect x="83" y="574" width="1" height="3" fill="#c0c0c0"/>
<rect x="91" y="574" width="1" height="3" fill="#c0c0c0"/>
<rect x="99" y="573" width="1" height="4" fill="#c0c0c0"/>
<rect x="107" y="573" width="1" height="4" fill="#c0c0c0"/>
<rect x="115" y="573" width="1" height="4" fill="#c0c0c0"/>
<rect x="123" y="570" width="1" height="7" fill="#c0c0c0"/>
<rect x="131" y="567" width="1" height="10" fill="#c0c0c0"/>
<rect x="139" y="565" width="1" height="12" fill="#c0c0c0"/>
<rect x="147" y="563" width="1" height="14" fill="#c0c0c0"/>
<rect x="155" y="559" width="1" height="18" fill="#c0c0c0"/>
<rect x="163" y="556" width="1" height="21" fill="#c0c0c0"/>
<rect x="171" y="554" width="1" height="23" fill="#c0c0c0"/>
<rect x="179" y="553" width="1" height="24" fill="#c0c0c0"/>
<rect x="187" y="552" width="1" height="25" fill="#c0c0c0"/>
<rect x="195" y="552" width="1" height="25" fill="#c0c0c0"/>
<rect x="203" y="551" width="1" height="26" fill="#c0c0c0"/>
<rect x="211" y="552" width="1" height="25" fill="#c0c0c0"/>
<rect x="219" y="554" width="1" height="23" fill="#c0c0c0"/>
<rect x="227" y="557" width="1" height="20" fill="#c0c0c0"/>
<rect x="235" y="559" width="1" height="18" fill="#c0c0c0"/>
<rect x="243" y="561" width="1" height="16" fill="#c0c0c0"/>
<rect x="251" y="562" width="1" height="15" fill="#c0c0c0"/>
<rect x="259" y="563" width="1" height="14" fill="#c0c0c0"/>
<rect x="267" y="564" width="1" height="13" fill="#c0c0c0"/>
<rect x="275" y="564" width="1" height="13" fill="#c0c0c0"/>
<rect x="283" y="562" width="1" height="15" fill="#c0c0c0"/>
<rect x="291" y="561" width="1" height="16" fill="#c0c0c0"/>
<rect x="299" y="560" width="1" height="17" fill="#c0c0c0"/>
<rect x="307" y="559" width="1" height="18" fill="#c0c0c0"/>
<rect x="315" y="558" width="1" height="19" fill="#c0c0c0"/>
<rect x="323" y="557" width="1" height="20" fill="#c0c0c0"/>
<rect x="331" y="553" width="1" height="24" fill="#c0c0c0"/>
<rect x="339" y="551" width="1" height="26" fill="#c0c0c0"/>
<rect x="347" y="550" width="1" height="27" fill="#c0c0c0"/>
<rect x="355" y="550" width="1" height="27" fill="#c0c0c0"/>
<rect x="363" y="549" width="1" height="28" fill="#c0c0c0"/>
<rect x="371" y="550" width="1" height="27" fill="#c0c0c0"/>
<rect x="379" y="550" width="1" height="27" fill="#c0c0c0"/>
<rect x="387" y="551" width="1" height="26" fill="#c0c0c0"/>
<rect x="395" y="552" width="1" height="25" fill="#c0c0c0"/>
<rect x="403" y="554" width="1" height="23" fill="#c0c0c0"/>
<rect x="411" y="555" width="1" height="22" fill="#c0c0c0"/>
<rect x="419" y="555" width="1" height="22" fill="#c0c0c0"/>
<rect x="427" y="556" width="1" height="21" fill="#c0c0c0"/>
<rect x="435" y="556" width="1" height="21" fill="#c0c0c0"/>
<rect x="443" y="556" width="1" height="21" fill="#c0c0c0"/>
<rect x="451" y="555" width="1" height="22" fill="#c0c0c0"/>
<rect x="459" y="555" width="1" height="22" fill="#c0c0c0"/>
<rect x="467" y="555" width="1" height="22" fill="#c0c0c0"/>
<rect x="475" y="557" width="1" height="20" fill="#c0c0c0"/>
<rect x="483" y="559" width="1" height="18" fill="#c0c0c0"/>
<rect x="491" y="560" width="1" height="17" fill="#c0c0c0"/>
<rect x="499" y="561" width="1" height="16" fill="#c0c0c0"/>
<rect x="507" y="563" width="1" height="14" fill="#c0c0c0"/>
<rect x="515" y="564" width="1" height="13" fill="#c0c0c0"/>
<rect x="523" y="563" width="1" height="14" fill="#c0c0c0"/>
<rect x="531" y="563" width="1" height="14" fill="#c0c0c0"/>
<rect x="539" y="566" width="1" height="11" fill="#c0c0c0"/>
<rect x="547" y="569" width="1" height="8" fill="#c0c0c0"/>
<rect x="555" y="572" width="1" height="5" fill="#c0c0c0"/>
<rect x="563" y="573" width="1" height="4" fill="#c0c0c0"/>
<rect x="571" y="576" width="1" height="1" fill="#c0c0c0"/>
<rect x="579" y="576" width="1" height="7" fill="#c0c0c0"/>
<rect x="587" y="576" width="1" height="29" fill="#c0c0c0"/>
<rect x="595" y="576" width="1" height="47" fill="#c0c0c0"/>
<rect x="603" y="576" width="1" height="54" fill="#c0c0c0"/>
<rect x="611" y="576" width="1" height="57" fill="#c0c0c0"/>
<rect x="619" y="576" width="1" height="57" fill="#c0c0c0"/>
<rect x="627" y="576" width="1" height="57" fill="#c0c0c0"/>
<rect x="635" y="576" width="1" height="55" fill="#c0c0c0"/>
<rect x="643" y="576" width="1" height="50" fill="#c0c0c0"/>
<rect x="651" y="576" width="1" height="47" fill="#c0c0c0"/>
<rect x="659" y="576" width="1" height="43" fill="#c0c0c0"/>
<rect x="667" y="576" width="1" height="40" fill="#c0c0c0"/>
<rect x="675" y="576" width="1" height="36" fill="#c0c0c0"/>
<rect x="683" y="576" width="1" height="31" fill="#c0c0c0"/>
<rect x="691" y="576" width="1" height="27" fill="#c0c0c0"/>
<rect x="699" y="576" width="1" height="22" fill="#c0c0c0"/>
<rect x="707" y="576" width="1" height="18" fill="#c0c0c0"/>
<rect x="715" y="576" width="1" height="14" fill="#c0c0c0"/>
<rect x="723" y="576" width="1" height="12" fill="#c0c0c0"/>
<rect x="731" y="576" width="1" height="8" fill="#c0c0c0"/>
<rect x="739" y="576" width="1" height="5" fill="#c0c0c0"/>
<rect x="755" y="572" width="1" height="5" fill="#c0c0c0"/>
<rect x="763" y="569" width="1" height="8" fill="#c0c0c0"/>
<rect x="771" y="567" width="1" height="10" fill="#c0c0c0"/>
<rect x="779" y="564" width="1" height="13" fill="#c0c0c0"/>
<rect x="787" y="563" width="1" height="14" fill="#c0c0c0"/>
<rect x="795" y="561" width="1" height="16" fill="#c0c0c0"/>
<rect x="803" y="557" width="1" height="20" fill="#c0c0c0"/>
<rect x="811" y="553" width="1" height="24" fill="#c0c0c0"/>
<rect x="819" y="550" width="1" height="27" fill="#c0c0c0"/>
<rect x="827" y="549" width="1" height="28" fill="#c0c0c0"/>
<rect x="835" y="550" width="1" height="27" fill="#c0c0c0"/>
<rect x="843" y="553" width="1" height="24" fill="#c0c0c0"/>
<rect x="851" y="554" width="1" height="23" fill="#c0c0c0"/>
<rect x="859" y="554" width="1" height="23" fill="#c0c0c0"/>
<rect x="867" y="557" width="1" height="20" fill="#c0c0c0"/>
<rect x="875" y="558" width="1" height="19" fill="#c0c0c0"/>
<rect x="883" y="560" width="1" height="17" fill="#c0c0c0"/>
<rect x="891" y="569" width="1" height="8" fill="#c0c0c0"/>
<rect x="899" y="576" width="1" height="1" fill="#c0c0c0"/>
<rect x="907" y="575" width="1" height="2" fill="#c0c0c0"/>
<rect x="915" y="575" width="1" height="2" fill="#c0c0c0"/>
<rect x="923" y="572" width="1" height="5" fill="#c0c0c0"/>
<rect x="931" y="572" width="1" height="5" fill="#c0c0c0"/>
<rect x="939" y="571" width="1" height="6" fill="#c0c0c0"/>
<rect x="947" y="570" width="1" height="7" fill="#c0c0c0"/>
<rect x="955" y="565" width="1" height="12" fill="#c0c0c0"/>
<rect x="963" y="561" width="1" height="16" fill="#c0c0c0"/>
<rect x="971" y="561" width="1" height="16" fill="#c0c0c0"/>
<rect x="979" y="561" width="1" height="16" fill="#c0c0c0"/>
<rect x="987" y="568" width="1" height="9" fill="#c0c0c0"/>
<rect x="995" y="574" width="1" height="3" fill="#c0c0c0"/>
<rect x="1003" y="575" width="1" height="2" fill="#c0c0c0"/>
<rect x="1011" y="575" width="1" height="2" fill="#c0c0c0"/>
<rect x="1019" y="575" width="1" height="2" fill="#c0c0c0"/>
<rect x="1027" y="576" width="1" height="2" fill="#c0c0c0"/>
<rect x="1035" y="576" width="1" height="7" fill="#c0c0c0"/>
<rect x="1043" y="576" width="1" height="11" fill="#c0c0c0"/>
<rect x="1051" y="576" width="1" height="21" fill="#c0c0c0"/>
<rect x="1059" y="576" width="1" height="23" fill="#c0c0c0"/>
<rect x="1067" y="576" width="1" height="29" fill="#c0c0c0"/>
<rect x="1075" y="576" width="1" height="38" fill="#c0c0c0"/>
<rect x="1083" y="576" width="1" height="44" fill="#c0c0c0"/>
<rect x="1091" y="576" width="1" height="50" fill="#c0c0c0"/>
<rect x="1099" y="576" width="1" height="50" fill="#c0c0c0"/>
<rect x="1107" y="576" width="1" height="57" fill="#c0c0c0"/>
<rect x="1115" y="576" width="1" height="66" fill="#c0c0c0"/>
<rect x="1123" y="576" width="1" height="70" fill="#c0c0c0"/>
<rect x="1131" y="576" width="1" height="71" fill="#c0c0c0"/>
<rect x="1139" y="576" width="1" height="70" fill="#c0c0c0"/>
<rect x="1147" y="576" width="1" height="70" fill="#c0c0c0"/>
<rect x="1155" y="576" width="1" height="72" fill="#c0c0c0"/>
<rect x="1163" y="576" width="1" height="70" fill="#c0c0c0"/>
<rect x="1171" y="576" width="1" height="67" fill="#c0c0c0"/>
<rect x="1179" y="576" width="1" height="60" fill="#c0c0c0"/>
<rect x="1187" y="576" width="1" height="53" fill="#c0c0c0"/>
<rect x="1195" y="576" width="1" height="47" fill="#c0c0c0"/>
<rect x="1203" y="576" width="1" height="43" fill="#c0c0c0"/>
<rect x="1211" y="576" width="1" height="36" fill="#c0c0c0"/>
<rect x="1219" y="576" width="1" height="32" fill="#c0c0c0"/>
<rect x="1227" y="576" width="1" height="32" fill="#c0c0c0"/>
<rect x="1235" y="576" width="1" height="29" fill="#c0c0c0"/>
<rect x="1243" y="576" width="1" height="27" fill="#c0c0c0"/>
<rect x="1251" y="576" width="1" height="25" fill="#c0c0c0"/>
<rect x="1259" y="576" width="1" height="22" fill="#c0c0c0"/>
<rect x="1267" y="576" width="1" height="21" fill="#c0c0c0"/>
<rect x="1275" y="576" width="1" height="19" fill="#c0c0c0"/>
<rect x="1283" y="576" width="1" height="15" fill="#c0c0c0"/>
<rect x="1291" y="576" width="1" height="13" fill="#c0c0c0"/>
<rect x="1299" y="576" width="1" height="11" fill="#c0c0c0"/>
<rect x="1307" y="576" width="1" height="6" fill="#c0c0c0"/>
<rect x="1315" y="576" width="1" height="2" fill="#c0c0c0"/>
<rect x="1323" y="576" width="1" height="1" fill="#c0c0c0"/>
<rect x="1331" y="574" width="1" height="3" fill="#c0c0c0"/>
<polyline points="3.5,585.5 11.5,585.5 19.5,585.5 27.5,585.5 35.5,585.5 43.5,585.2 51.5,584.4 59.5,582.25 67.5,581.25 75.5,580.58 83.5,579.32 91.5,577.7 99.5,576.5 107.5,575.26 115.5,574.26 123.5,573.39 131.5,572.08 139.5,570.81 147.5,569.58 155.5,568.38 163.5,566.43 171.5,564.78 179.5,561.8 187.5,558.84 195.5,557.52 203.5,555.26 211.5,554.39 219.5,553.38 227.5,552.47 235.5,553.64 243.5,554.21 251.5,555.1 259.5,556.71 267.5,557.51 275.5,559.04 283.5,560.5 291.5,561.15 299.5,561.4 307.5,561.4 315.5,561.4 323.5,560.57 331.5,559.19 339.5,557.61 347.5,556.69 355.5,555.31 363.5,553.76 371.5,552.61 379.5,551.37 387.5,550.64 395.5,550.53 403.5,550.42 411.5,550.88 419.5,551.42 427.5,551.65 435.5,552.24 443.5,553.47 451.5,553.92 459.5,554.36 467.5,554.57 475.5,554.77 483.5,555.45 491.5,556.68 499.5,557.1 507.5,557.53 515.5,558.43 523.5,559.44 531.5,560.45 539.5,561.27 547.5,562.87 555.5,564.66 563.5,565.88 571.5,566.8 579.5,569.98 587.5,574.27 595.5,580.73 603.5,588.3 611.5,595.64 619.5,602.8 627.5,609.94 635.5,616.5 643.5,621.99 651.5,625.83 659.5,628.25 667.5,627.02 675.5,625.79 683.5,622.21 691.5,619.41 699.5,615.65 707.5,611.3 715.5,607.63 723.5,603.64 731.5,599.15 739.5,594.92 747.5,591.54 755.5,587.39 763.5,583.94 771.5,580.31 779.5,576.43 787.5,573.55 795.5,570.51 803.5,567.23 811.5,564.24 819.5,561.51 827.5,558.62 835.5,556.54 843.5,555.36 851.5,554.55 859.5,553.37 867.5,552.62 875.5,552.42 883.5,553.78 891.5,555.45 899.5,558.17 907.5,560.88 915.5,563.17 923.5,565.55 931.5,567.48 939.5,569.19 947.5,570.4 955.5,570.5 963.5,570.22 971.5,568.21 979.5,566.75 987.5,566.4 995.5,566.4 1003.5,566.4 1011.5,567.27 1019.5,568.02 1027.5,569.38 1035.5,571.19 1043.5,573.97 1051.5,577.88 1059.5,582.14 1067.5,586.29 1075.5,590.43 1083.5,595.24 1091.5,600.87 1099.5,606.25 1107.5,611.97 1115.5,617.5 1123.5,623.76 1131.5,629.19 1139.5,632.89 1147.5,637.04 1155.5,640.04 1163.5,642.65 1171.5,643.78 1179.5,644.2 1187.5,643.3 1195.5,640.63 1203.5,637.34 1211.5,634.17 1219.5,629.45 1227.5,625.27 1235.5,620.76 1243.5,616.47 1251.5,612.46 1259.5,609.32 1267.5,606.44 1275.5,603.58 1283.5,601.14 1291.5,598.75 1299.5,596.23 1307.5,594.27 1315.5,591.51 1323.5,588.51 1331.5,585.2" fill="none" stroke="#ff0000" stroke-width="1" stroke-dasharray="3 3"/>
</g>
<g clip-path="url(#cr)">
<line x1="4" y1="690.5" x2="1688" y2="690.5" stroke="#c0c0c0" stroke-dasharray="3 3"/>
<line x1="4" y1="734.5" x2="1688" y2="734.5" stroke="#c0c0c0" stroke-dasharray="3 3"/>
<polyline points="3.5,719.5 11.5,722.4 19.5,719.8 27.5,715.3 35.5,710.2 43.5,706.5 51.5,701.5 59.5,705 67.5,705.3 75.5,706.4 83.5,704.5 91.5,704.5 99.5,702.3 107.5,703.5 115.5,709.4 123.5,693.2 131.5,688.4 139.5,690.6 147.5,687.7 155.5,680.4 163.5,680.4 171.5,679.2 179.5,686.2 187.5,686.2 195.5,685 203.5,683.3 211.5,692.1 219.5,697.2 227.5,711.5 235.5,708.7 243.5,706.9 251.5,705.3 259.5,705.3 267.5,701.2 275.5,697.6 283.5,689.1 291.5,705.5 299.5,695.3 307.5,695.3 315.5,695.3 323.5,692.4 331.5,686.2 339.5,687.4 347.5,690.3 355.5,690.3 363.5,687.4 371.5,699.1 379.5,695.3 387.5,695.3 395.5,699.7 403.5,705.3 411.5,700.6 419.5,698.2 427.5,700.6 435.5,699.1 443.5,697.2 451.5,692.4 459.5,692.4 467.5,695.7 475.5,705.6 483.5,705.3 491.5,705.3 499.5,704.5 507.5,705.3 515.5,704.5 523.5,698.7 531.5,697.2 539.5,716.2 547.5,719.2 555.5,721.4 563.5,714.3 571.5,729 579.5,733.8 587.5,753.3 595.5,753.3 603.5,735.3 611.5,732.3 619.5,727.2 627.5,728.4 635.5,723.6 643.5,719.2 651.5,721.4 659.5,718.4 667.5,720.2 675.5,718.4 683.5,714 691.5,714 699.5,711.8 707.5,710.4 715.5,712.3 723.5,712.3 731.5,708.5 739.5,708.5 747.5,702.3 755.5,699.4 763.5,705.3 771.5,703.1 779.5,701.2 787.5,705.3 795.5,701.2 803.5,696.5 811.5,693.2 819.5,695 827.5,699.1 835.5,700.9 843.5,710.4 851.5,704.5 859.5,704.5 867.5,710.4 875.5,707.4 883.5,710.4 891.5,726.5 899.5,725.5 907.5,710.4 915.5,711.4 923.5,707.4 931.5,710.4 939.5,708.9 947.5,707.5 955.5,702.3 963.5,700.6 971.5,706.4 979.5,708.2 987.5,720.2 995.5,721.4 1003.5,714 1011.5,712.6 1019.5,713.3 1027.5,718.4 1035.5,724 1043.5,722.5 1051.5,732.3 1059.5,722.1 1067.5,725.8 1075.5,732.3 1083.5,729.4 1091.5,731.3 1099.5,725.8 1107.5,732.3 1115.5,736 1123.5,731.6 1131.5,730.1 1139.5,726.5 1147.5,729.4 1155.5,731.3 1163.5,725.8 1171.5,724.3 1179.5,718.4 1187.5,717.3 1195.5,717.3 1203.5,718.4 1211.5,712.6 1219.5,717 1227.5,720.6 1235.5,717.3 1243.5,716.7 1251.5,718.4 1259.5,714 1267.5,718.4 1275.5,716.7 1283.5,710.4 1291.5,712.6 1299.5,714.3 1307.5,706 1315.5,706 1323.5,708.5 1331.5,707.4" fill="none" stroke="#1e90ff" stroke-width="1"/>
</g>
<rect x="2" y="32" width="1687" height="1" fill="#000"/>
<rect x="2" y="539" width="1687" height="1" fill="#000"/>
<rect x="2" y="32" width="1" height="508" fill="#000"/>
<rect x="1688" y="32" width="1" height="508" fill="#000"/>
<rect x="2" y="541" width="1687" height="1" fill="#000"/>
<rect x="2" y="654" width="1687" height="1" fill="#000"/>
<rect x="2" y="541" width="1" height="114" fill="#000"/>
<rect x="1688" y="541" width="1" height="114" fill="#000"/>
<rect x="2" y="656" width="1687" height="1" fill="#000"/>
<rect x="2" y="768" width="1687" height="1" fill="#000"/>
<rect x="2" y="656" width="1" height="113" fill="#000"/>
<rect x="1688" y="656" width="1" height="113" fill="#000"/>
<rect x="1689" y="41" width="2" height="1" fill="#000"/>
<text transform="translate(1694 45) scale(0.93 1)" style="font-size:10px" fill="#000">4260.5</text>
<rect x="1689" y="74" width="2" height="1" fill="#000"/>
<text transform="translate(1694 78) scale(0.93 1)" style="font-size:10px" fill="#000">4206.5</text>
<rect x="1689" y="107" width="2" height="1" fill="#000"/>
<text transform="translate(1694 111) scale(0.93 1)" style="font-size:10px" fill="#000">4151.0</text>
<rect x="1689" y="140" width="2" height="1" fill="#000"/>
<text transform="translate(1694 144) scale(0.93 1)" style="font-size:10px" fill="#000">4097.0</text>
<rect x="1689" y="173" width="2" height="1" fill="#000"/>
<text transform="translate(1694 177) scale(0.93 1)" style="font-size:10px" fill="#000">4041.5</text>
<rect x="1689" y="206" width="2" height="1" fill="#000"/>
<text transform="translate(1694 210) scale(0.93 1)" style="font-size:10px" fill="#000">3987.5</text>
<rect x="1689" y="239" width="2" height="1" fill="#000"/>
<text transform="translate(1694 243) scale(0.93 1)" style="font-size:10px" fill="#000">3932.0</text>
<rect x="1689" y="272" width="2" height="1" fill="#000"/>
<text transform="translate(1694 276) scale(0.93 1)" style="font-size:10px" fill="#000">3878.0</text>
<rect x="1689" y="305" width="2" height="1" fill="#000"/>
<text transform="translate(1694 309) scale(0.93 1)" style="font-size:10px" fill="#000">3824.0</text>
<rect x="1689" y="338" width="2" height="1" fill="#000"/>
<text transform="translate(1694 342) scale(0.93 1)" style="font-size:10px" fill="#000">3769.0</text>
<rect x="1689" y="371" width="2" height="1" fill="#000"/>
<text transform="translate(1694 375) scale(0.93 1)" style="font-size:10px" fill="#000">3714.5</text>
<rect x="1689" y="404" width="2" height="1" fill="#000"/>
<text transform="translate(1694 408) scale(0.93 1)" style="font-size:10px" fill="#000">3659.0</text>
<rect x="1689" y="437" width="2" height="1" fill="#000"/>
<text transform="translate(1694 441) scale(0.93 1)" style="font-size:10px" fill="#000">3605.0</text>
<rect x="1689" y="470" width="2" height="1" fill="#000"/>
<text transform="translate(1694 474) scale(0.93 1)" style="font-size:10px" fill="#000">3551.0</text>
<rect x="1689" y="503" width="2" height="1" fill="#000"/>
<text transform="translate(1694 507) scale(0.93 1)" style="font-size:10px" fill="#000">3495.5</text>
<rect x="1689" y="536" width="2" height="1" fill="#000"/>
<text transform="translate(1694 540) scale(0.93 1)" style="font-size:10px" fill="#000">3440.0</text>
<rect x="1690" y="223" width="36" height="11" fill="#ff0000"/>
<text transform="translate(1694.5 232) scale(0.93 1)" style="font-size:10px" fill="#fff">3950.0</text>
<rect x="1690" y="295" width="36" height="11" fill="#ff0000"/>
<text transform="translate(1694.5 304) scale(0.93 1)" style="font-size:10px" fill="#fff">3830.0</text>
<rect x="1690" y="336" width="36" height="11" fill="#000000"/>
<text transform="translate(1694.5 345) scale(0.93 1)" style="font-size:10px" fill="#fff">3763.5</text>
<rect x="1690" y="352" width="36" height="11" fill="#32cd32"/>
<text transform="translate(1694.5 361) scale(0.93 1)" style="font-size:10px" fill="#fff">3735.0</text>
<rect x="1690" y="404" width="36" height="11" fill="#4169e1"/>
<text transform="translate(1694.5 413) scale(0.93 1)" style="font-size:10px" fill="#fff">3650.0</text>
<rect x="1690" y="470" width="36" height="11" fill="#4169e1"/>
<text transform="translate(1694.5 479) scale(0.93 1)" style="font-size:10px" fill="#fff">3540.0</text>
<rect x="1690" y="531" width="36" height="11" fill="#4169e1"/>
<text transform="translate(1694.5 540) scale(0.93 1)" style="font-size:10px" fill="#fff">3440.0</text>
<rect x="1689" y="543" width="2" height="1" fill="#000"/>
<text transform="translate(1692 552) scale(0.93 1)" style="font-size:10px" fill="#000">58.42</text>
<rect x="1689" y="576" width="2" height="1" fill="#000"/>
<text transform="translate(1692 580) scale(0.93 1)" style="font-size:10px" fill="#000">0.00</text>
<rect x="1689" y="653" width="2" height="1" fill="#000"/>
<text transform="translate(1692 651) scale(0.93 1)" style="font-size:10px" fill="#000">-137.09</text>
<rect x="1689" y="658" width="2" height="1" fill="#000"/>
<text transform="translate(1692 667) scale(0.93 1)" style="font-size:10px" fill="#000">100</text>
<rect x="1689" y="690" width="2" height="1" fill="#000"/>
<text transform="translate(1692 694) scale(0.93 1)" style="font-size:10px" fill="#000">70</text>
<rect x="1689" y="734" width="2" height="1" fill="#000"/>
<text transform="translate(1692 738) scale(0.93 1)" style="font-size:10px" fill="#000">30</text>
<rect x="1689" y="767" width="2" height="1" fill="#000"/>
<text transform="translate(1692 765) scale(0.93 1)" style="font-size:10px" fill="#000">0</text>
<rect x="3" y="769" width="1" height="3" fill="#000"/>
<text transform="translate(2 781) scale(0.93 1)" style="font-size:10px" fill="#000">3 Dec 2019</text>
<rect x="67" y="769" width="1" height="3" fill="#000"/>
<text transform="translate(66 781) scale(0.93 1)" style="font-size:10px" fill="#000">9 Dec 05:00</text>
<rect x="131" y="769" width="1" height="3" fill="#000"/>
<text transform="translate(130 781) scale(0.93 1)" style="font-size:10px" fill="#000">13 Dec 05:00</text>
<rect x="195" y="769" width="1" height="3" fill="#000"/>
<text transform="translate(194 781) scale(0.93 1)" style="font-size:10px" fill="#000">19 Dec 05:00</text>
<rect x="259" y="769" width="1" height="3" fill="#000"/>
<text transform="translate(258 781) scale(0.93 1)" style="font-size:10px" fill="#000">25 Dec 05:00</text>
<rect x="323" y="769" width="1" height="3" fill="#000"/>
<text transform="translate(322 781) scale(0.93 1)" style="font-size:10px" fill="#000">31 Dec 05:00</text>
<rect x="387" y="769" width="1" height="3" fill="#000"/>
<text transform="translate(386 781) scale(0.93 1)" style="font-size:10px" fill="#000">7 Jan 05:00</text>
<rect x="451" y="769" width="1" height="3" fill="#000"/>
<text transform="translate(450 781) scale(0.93 1)" style="font-size:10px" fill="#000">13 Jan 05:00</text>
<rect x="515" y="769" width="1" height="3" fill="#000"/>
<text transform="translate(514 781) scale(0.93 1)" style="font-size:10px" fill="#000">17 Jan 05:00</text>
<rect x="579" y="769" width="1" height="3" fill="#000"/>
<text transform="translate(578 781) scale(0.93 1)" style="font-size:10px" fill="#000">23 Jan 05:00</text>
<rect x="643" y="769" width="1" height="3" fill="#000"/>
<text transform="translate(642 781) scale(0.93 1)" style="font-size:10px" fill="#000">6 Feb 05:00</text>
<rect x="707" y="769" width="1" height="3" fill="#000"/>
<text transform="translate(706 781) scale(0.93 1)" style="font-size:10px" fill="#000">12 Feb 05:00</text>
<rect x="771" y="769" width="1" height="3" fill="#000"/>
<text transform="translate(770 781) scale(0.93 1)" style="font-size:10px" fill="#000">18 Feb 05:00</text>
<rect x="835" y="769" width="1" height="3" fill="#000"/>
<text transform="translate(834 781) scale(0.93 1)" style="font-size:10px" fill="#000">24 Feb 05:00</text>
<rect x="899" y="769" width="1" height="3" fill="#000"/>
<text transform="translate(898 781) scale(0.93 1)" style="font-size:10px" fill="#000">28 Feb 05:00</text>
<rect x="963" y="769" width="1" height="3" fill="#000"/>
<text transform="translate(962 781) scale(0.93 1)" style="font-size:10px" fill="#000">5 Mar 05:00</text>
<rect x="1027" y="769" width="1" height="3" fill="#000"/>
<text transform="translate(1026 781) scale(0.93 1)" style="font-size:10px" fill="#000">11 Mar 05:00</text>
<rect x="1091" y="769" width="1" height="3" fill="#000"/>
<text transform="translate(1090 781) scale(0.93 1)" style="font-size:10px" fill="#000">17 Mar 05:00</text>
<rect x="1155" y="769" width="1" height="3" fill="#000"/>
<text transform="translate(1154 781) scale(0.93 1)" style="font-size:10px" fill="#000">23 Mar 05:00</text>
<rect x="1219" y="769" width="1" height="3" fill="#000"/>
<text transform="translate(1218 781) scale(0.93 1)" style="font-size:10px" fill="#000">27 Mar 05:00</text>
<rect x="1283" y="769" width="1" height="3" fill="#000"/>
<text transform="translate(1282 781) scale(0.93 1)" style="font-size:10px" fill="#000">2 Apr 05:00</text>
<path d="M6 39h7l-3.5 4z" fill="#000" shape-rendering="auto"/>
<text transform="translate(18 44) scale(0.966 1)" style="font-size:10px" fill="#000">CHINA300-,H4</text>
<text transform="translate(89 44) scale(0.928 1)" style="font-size:10px" fill="#000">3757.6 3777.6 3748.4 3763.5</text>
<text transform="translate(6.4 554) scale(0.95 1)" style="font-size:10px" fill="#000">MACD(12,26,9)</text>
<text transform="translate(76 554) scale(0.932 1)" style="font-size:10px" fill="#000">4.50 -16.90</text>
<text transform="translate(6.5 669) scale(0.936 1)" style="font-size:10px" fill="#000">RSI(14)</text>
<text transform="translate(41.2 669) scale(0.93 1)" style="font-size:10px" fill="#000">54.6215</text>
</svg></body></html>
